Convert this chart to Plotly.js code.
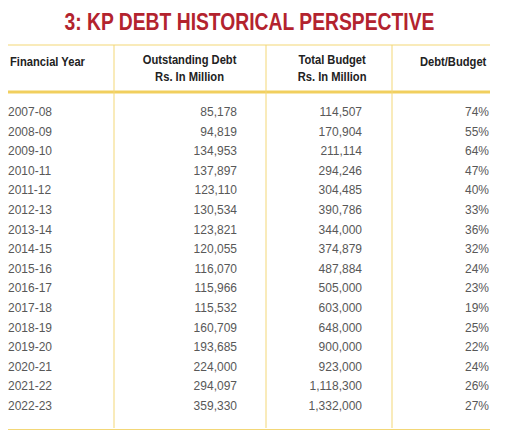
<!DOCTYPE html>
<html><head><meta charset="utf-8">
<script src="https://cdn.plot.ly/plotly-3.0.1.min.js"></script>
<style>html,body{margin:0;padding:0;background:#fff}</style>
</head><body>
<div id="chart" style="width:510px;height:441px"></div>
<script>
const years = ["2007-08","2008-09","2009-10","2010-11","2011-12","2012-13","2013-14","2014-15","2015-16","2016-17","2017-18","2018-19","2019-20","2020-21","2021-22","2022-23"];
const outstandingDebt = [85178,94819,134953,137897,123110,130534,123821,120055,116070,115966,115532,160709,193685,224000,294097,359330];
const totalBudget = [114507,170904,211114,294246,304485,390786,344000,374879,487884,505000,603000,648000,900000,923000,1118300,1332000];
const debtBudgetPct = [74,55,64,47,40,33,36,32,24,23,19,25,22,24,26,27];
const headers = ["Financial Year","Outstanding Debt<br>Rs. In Million","Total Budget<br>Rs. In Million","Debt/Budget"];
const titleText = "3: KP DEBT HISTORICAL PERSPECTIVE";

// layout geometry (pixel units on hidden axes)
const W = 510, H = 441;
const colAnchor = [8, 237, 362, 489];
const rowTop = 113, rowStep = 19.6;
const rowY = years.map((_, i) => rowTop + i * rowStep);
const fmt = v => v.toLocaleString('en-US');

const bodyFont = {family: "Liberation Sans, Arial, sans-serif", size: 12, color: "#585858"};
const hdrFont = {family: "Liberation Sans Narrow, Arial Narrow, Liberation Sans, sans-serif", size: 13, color: "#222222"};
const yellow = "#f3d777";

function col(i, texts, pos) {
  return {type: "scatter", mode: "text", x: texts.map(() => colAnchor[i]), y: rowY,
    text: texts, textposition: pos, textfont: bodyFont, hoverinfo: "skip", showlegend: false, cliponaxis: false};
}
const traces = [
  col(0, years, "middle right"),
  col(1, outstandingDebt.map(fmt), "middle left"),
  col(2, totalBudget.map(fmt), "middle left"),
  col(3, debtBudgetPct.map(v => v + "%"), "middle left")
];

const vline = x => ({type: "line", xref: "x", yref: "y", x0: x, x1: x, y0: 45, y1: 428, line: {color: yellow, width: 1}});
const layout = {
  width: W, height: H, margin: {l: 0, r: 0, t: 0, b: 0},
  paper_bgcolor: "#ffffff", plot_bgcolor: "#ffffff",
  xaxis: {range: [0, W], visible: false, fixedrange: true},
  yaxis: {range: [H, 0], visible: false, fixedrange: true},
  shapes: [
    {type: "line", xref: "x", yref: "y", x0: 8, x1: 490, y0: 45, y1: 45, line: {color: yellow, width: 1.2}},
    {type: "line", xref: "x", yref: "y", x0: 8, x1: 490, y0: 92, y1: 92, line: {color: "#f1cf5e", width: 3}},
    {type: "line", xref: "x", yref: "y", x0: 8, x1: 490, y0: 429.5, y1: 429.5, line: {color: yellow, width: 1.2}},
    vline(114), vline(266), vline(392)
  ],
  annotations: [
    {text: "<b>" + titleText + "</b>", x: 249, y: 22, xref: "x", yref: "y", showarrow: false,
     font: {family: "Liberation Sans Narrow, Arial Narrow, Liberation Sans, sans-serif", size: 23, color: "#b3232e"}},
    {text: "<b>" + headers[0] + "</b>", x: 8, y: 61, xref: "x", yref: "y", xanchor: "left", showarrow: false, font: hdrFont},
    {text: "<b>" + headers[1] + "</b>", x: 190, y: 67.5, xref: "x", yref: "y", showarrow: false, font: hdrFont, align: "center"},
    {text: "<b>" + headers[2] + "</b>", x: 332, y: 67.5, xref: "x", yref: "y", showarrow: false, font: hdrFont, align: "center"},
    {text: "<b>" + headers[3] + "</b>", x: 489, y: 61, xref: "x", yref: "y", xanchor: "right", showarrow: false, font: hdrFont}
  ]
};
// horizontal condensing of title/header text (narrow face not installed)
const squeeze = [
  {scale: 0.84, anchor: "middle"},
  {scale: 0.86, anchor: "left"},
  {scale: 0.86, anchor: "middle"},
  {scale: 0.86, anchor: "middle"},
  {scale: 0.86, anchor: "right"}
];
Plotly.newPlot("chart", traces, layout, {displayModeBar: false, staticPlot: true}).then(gd => {
  const texts = gd.querySelectorAll(".annotation-text");
  texts.forEach((t, i) => {
    const s = squeeze[i]; if (!s) return;
    const b = t.getBBox();
    const ax = s.anchor === "left" ? b.x : s.anchor === "right" ? b.x + b.width : b.x + b.width / 2;
    t.setAttribute("transform", `translate(${ax},0) scale(${s.scale},1) translate(${-ax},0)`);
  });
});
</script>
</body></html>
